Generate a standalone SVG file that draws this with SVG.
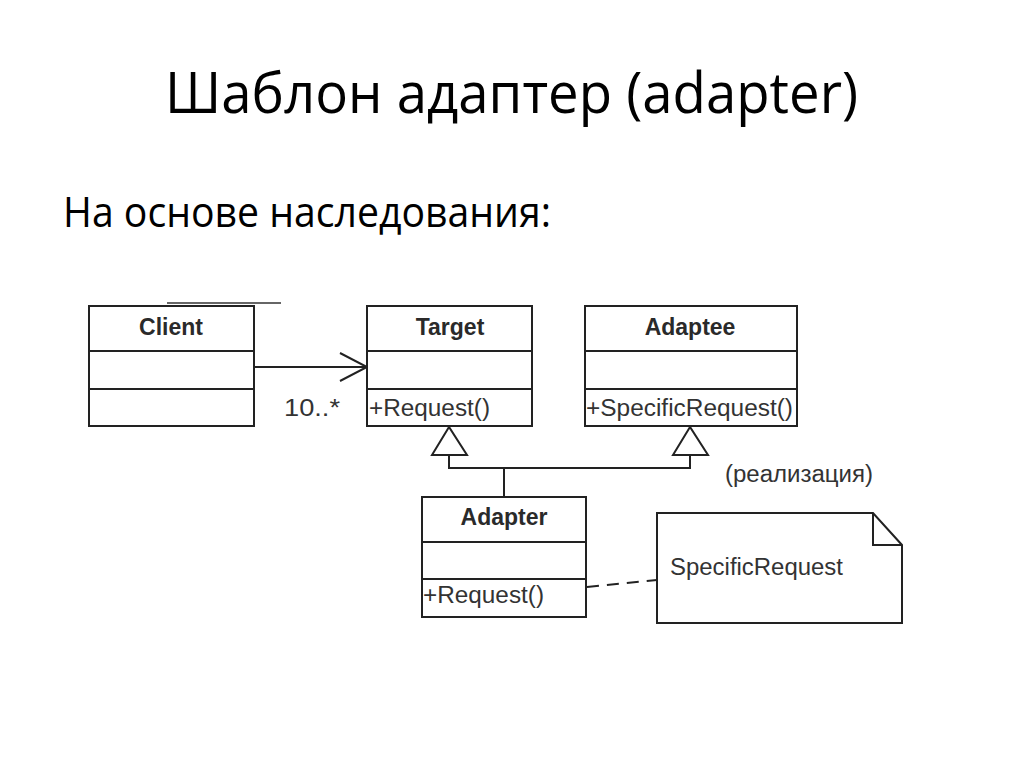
<svg xmlns="http://www.w3.org/2000/svg" width="1024" height="768" viewBox="0 0 1024 768">
<style>
.box{fill:#fff;stroke:#222;stroke-width:2}
.ln{fill:none;stroke:#222;stroke-width:2}
.nm{font-family:"Liberation Sans",Arial,sans-serif;font-weight:bold;font-size:23px;fill:#2a2a2a;text-anchor:middle}
.op{font-family:"Liberation Sans",Arial,sans-serif;font-size:23px;fill:#333}
.hd{font-family:"Open Sans","Liberation Sans",sans-serif;fill:#000}
</style>
<rect width="1024" height="768" fill="#fff"/>
<text class="hd" x="165" y="113" font-size="56" textLength="693" lengthAdjust="spacingAndGlyphs">Шаблон адаптер (adapter)</text>
<text class="hd" x="63" y="227" font-size="42" textLength="488" lengthAdjust="spacingAndGlyphs">На основе наследования:</text>
<line x1="167" y1="303" x2="281" y2="303" stroke="#333" stroke-width="1.5"/>
<g id="connectors">
<path class="ln" d="M254 367 H367 M340 353 L367 367 L340 381"/>
<text class="op" x="284" y="416" textLength="56" lengthAdjust="spacingAndGlyphs">10..*</text>
<path class="ln" d="M449 455 V468 H690 V455 M504 468 V497"/>
<path class="box" d="M449 427 L432 455 H467 Z"/>
<path class="box" d="M690 427 L673 455 H708 Z"/>
<text class="op" x="725" y="482" font-size="21" textLength="148" lengthAdjust="spacingAndGlyphs">(реализация)</text>
<line class="ln" x1="587" y1="587" x2="657" y2="580" stroke-dasharray="12,8"/>
</g>
<g id="client">
<rect class="box" x="89" y="306" width="165" height="120"/>
<path class="ln" d="M89 351 H254 M89 389 H254"/>
<text class="nm" x="171" y="335">Client</text>
</g>
<g id="target">
<rect class="box" x="367" y="306" width="165" height="120"/>
<path class="ln" d="M367 351 H532 M367 389 H532"/>
<text class="nm" x="450" y="335">Target</text>
<text class="op" x="369" y="416" textLength="121" lengthAdjust="spacingAndGlyphs">+Request()</text>
</g>
<g id="adaptee">
<rect class="box" x="585" y="306" width="212" height="120"/>
<path class="ln" d="M585 351 H797 M585 389 H797"/>
<text class="nm" x="690" y="335">Adaptee</text>
<text class="op" x="586" y="416" textLength="207" lengthAdjust="spacingAndGlyphs">+SpecificRequest()</text>
</g>
<g id="adapter">
<rect class="box" x="422" y="497" width="164" height="120"/>
<path class="ln" d="M422 542 H586 M422 579 H586"/>
<text class="nm" x="504" y="525">Adapter</text>
<text class="op" x="423" y="603" textLength="121" lengthAdjust="spacingAndGlyphs">+Request()</text>
</g>
<g id="note">
<path class="box" d="M657 513 H873 L902 545 V623 H657 Z"/>
<path class="ln" d="M873 513 V545 H902"/>
<text class="op" x="670" y="575" textLength="173" lengthAdjust="spacingAndGlyphs">SpecificRequest</text>
</g>
</svg>
